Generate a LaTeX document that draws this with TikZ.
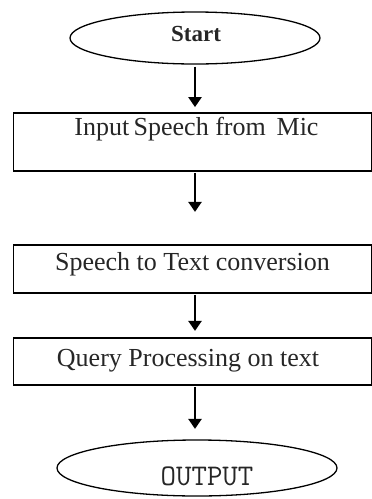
\documentclass[tikz,border=0pt]{standalone}
\usepackage{fontspec}
\setmainfont{Liberation Serif}
\usetikzlibrary{shapes.geometric,arrows.meta}
\begin{document}
\begin{tikzpicture}[x=1pt,y=-1pt,
  term/.style={draw,ellipse,line width=1.3pt,inner sep=0pt},
  procbox/.style={draw,rectangle,line width=1.8pt,inner sep=0pt},
  lbl/.style={font=\fontsize{26}{30}\selectfont,text=black!85,inner sep=0pt,anchor=base},
  flow/.style={line width=2.4pt,-{Triangle[width=13pt,length=10pt]}}]
\useasboundingbox (0,0) rectangle (372,499);
\node[term,minimum width=250pt,minimum height=52pt] (start) at (195,38) {};
\node[lbl,font=\fontsize{23}{26}\selectfont\bfseries] (tstart) at (196,41.5) {Start};
\node[procbox,minimum width=358pt,minimum height=58pt] (b1) at (192.5,142) {};
\node[lbl] (t1) at (196.5,135) {Input\,Speech from\ \,Mic};
\node[procbox,minimum width=358pt,minimum height=48pt] (b2) at (192.5,269) {};
\node[lbl] (t2) at (192.5,270) {Speech to Text conversion};
\node[procbox,minimum width=358pt,minimum height=47pt] (b3) at (192.5,361.5) {};
\node[lbl] (t3) at (188,366.5) {Query\ Processing on text};
\node[term,minimum width=280pt,minimum height=56pt] (out) at (197,468) {};
\node[lbl,font=\fontsize{30}{32}\ttfamily\addfontfeatures{LetterSpace=12}] (tout) at (207,485) {OUTPUT};
\draw[flow,shorten <=2pt,shorten >=5pt] (start.south -| b1.north) ++(2.5,0) coordinate (a1s) -- (a1s |- b1.north);
\draw[flow,shorten <=1pt] (b1.south -| start.south) -- ++(0,40);
\draw[flow,shorten <=1pt] (b2.south -| start.south) -- ++(0,37);
\draw[flow,shorten <=1pt] (b3.south -| start.south) -- ++(0,43);
\end{tikzpicture}
\end{document}
